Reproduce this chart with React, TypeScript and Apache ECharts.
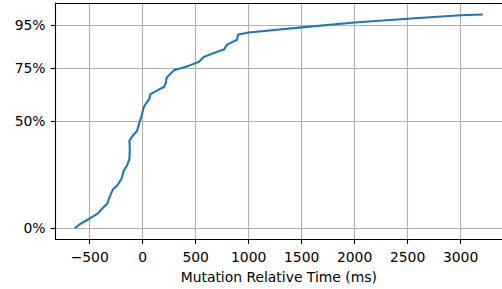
import React, { useEffect, useRef } from "react";
import * as echarts from "echarts";

const timesMs = [
  -641, -594, -500, -422, -375, -334, -312, -281, -235, -197, -178, -147, -125, -122, -125,
  -94, -53, -31, -10, 9, 32, 62, 72, 125, 203, 219, 225, 297, 344, 437, 531, 578, 672, 766,
  797, 890, 900, 1000, 1500, 2000, 2500, 3000, 3210,
];
const cumulativePct = [
  0, 1.9, 4.6, 7.0, 9.6, 11.6, 14.7, 18.2, 20.4, 23.5, 27.1, 29.4, 32.5, 37.1, 41.0,
  43.3, 45.6, 49.5, 52.6, 56.5, 58.5, 60.4, 62.7, 64.2, 66.2, 68.1, 70.4, 74.0, 74.6, 76.1,
  77.9, 80.2, 82.0, 83.6, 85.9, 88.2, 90.7, 91.6, 94.0, 96.3, 98.0, 99.7, 100,
];
const xTicks = [-500, 0, 500, 1000, 1500, 2000, 2500, 3000];
const yTicks = [0, 50, 75, 95];
const xTitle = "Mutation Relative Time (ms)";

const FONT = "DejaVu Sans";
const X_MIN = -823;
const X_MAX = 3391;

export default function App() {
  const ref = useRef<HTMLDivElement>(null);
  useEffect(() => {
    if (!ref.current) return;
    const chart = echarts.init(ref.current, undefined, { renderer: "svg" });
    const gridLine = { show: true, lineStyle: { color: "#b0b0b0", width: 1.1 } };
    chart.setOption({
      animation: false,
      grid: { left: 55.5, right: -3, top: 3, bottom: 48.3, containLabel: false },
      xAxis: [
        {
          type: "value",
          min: X_MIN,
          max: X_MAX,
          name: xTitle,
          nameLocation: "middle",
          nameGap: 31,
          nameTextStyle: { fontFamily: FONT, fontSize: 13.9, color: "#000" },
          axisLine: { show: true, onZero: false, lineStyle: { color: "#000", width: 1.1 } },
          axisTick: { show: true, length: 4.9, lineStyle: { color: "#000", width: 1.1 }, customValues: xTicks },
          axisLabel: {
            show: true,
            margin: 10.5,
            fontFamily: FONT,
            fontSize: 13.9,
            color: "#000",
            customValues: xTicks,
            formatter: (v: number) => String(v).replace("-", "\u2212"),
          },
          splitLine: gridLine,
        },
        {
          type: "value",
          position: "top",
          min: X_MIN,
          max: X_MAX,
          axisLine: { show: true, onZero: false, lineStyle: { color: "#000", width: 1.1 } },
          axisTick: { show: false },
          axisLabel: { show: false },
          splitLine: { show: false },
        },
      ],
      yAxis: {
        type: "value",
        min: -5,
        max: 105.4,
        axisLine: { show: true, onZero: false, lineStyle: { color: "#000", width: 1.1 } },
        axisTick: { show: true, length: 4.9, lineStyle: { color: "#000", width: 1.1 }, customValues: yTicks },
        axisLabel: {
          show: true,
          margin: 10,
          fontFamily: FONT,
          fontSize: 13.9,
          color: "#000",
          customValues: yTicks,
          formatter: (v: number) => v + "%",
        },
        splitLine: gridLine,
      },
      series: [
        {
          type: "line",
          xAxisIndex: 0,
          data: timesMs.map((t, i) => [t, cumulativePct[i]]),
          showSymbol: false,
          symbol: "none",
          lineStyle: { color: "#1f77b4", width: 2.1 },
          z: 5,
        },
      ],
    });
    return () => chart.dispose();
  }, []);
  return (
    <div
      ref={ref}
      style={{ position: "fixed", left: 0, top: 0, width: 502, height: 289, background: "#fff" }}
    />
  );
}
